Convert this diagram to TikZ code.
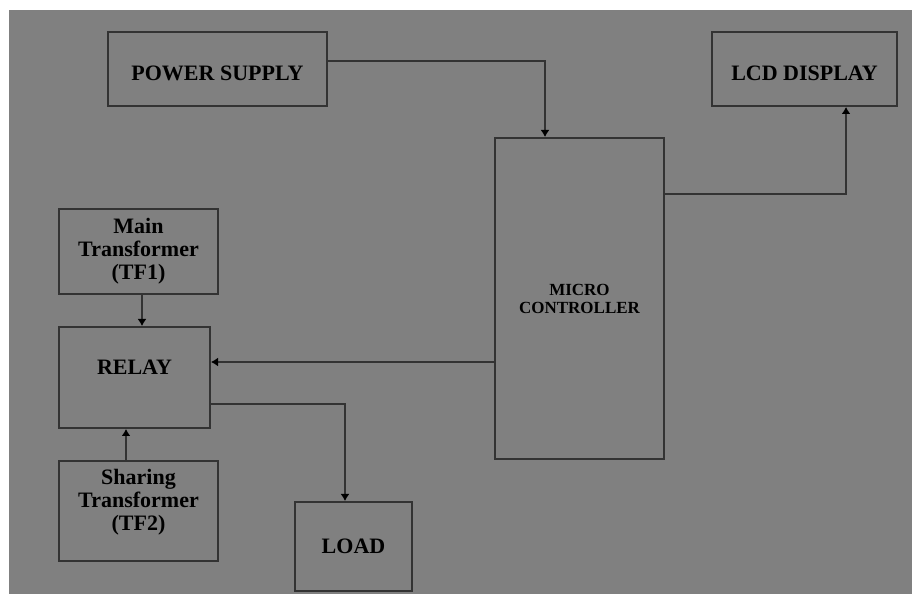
\documentclass[tikz,border=0pt]{standalone}
\usepackage{fontspec}
\setmainfont{Liberation Serif}
\usepackage{xcolor}
\definecolor{bggrey}{gray}{0.5}
\definecolor{edgegrey}{gray}{0.2}
\usetikzlibrary{arrows.meta,positioning}

\begin{document}
\begin{tikzpicture}[
    x=1pt, y=1pt,
    node distance=30pt and 40pt,
    block/.style={rectangle, draw=edgegrey, line width=2pt, inner sep=0pt, align=center, font=\fontsize{22}{23}\selectfont\bfseries},
    line/.style={draw=edgegrey, line width=2pt, -{Latex[length=7pt,width=9pt,color=black]}}
  ]
    \useasboundingbox (0,0) rectangle (912,594);
    \fill[bggrey] (9,0) rectangle (912,584);

    % Nodes - top row
    \node [block, minimum width=219pt, minimum height=74pt, text height=24pt] (power) at (217.5,525) {POWER SUPPLY};
    \node [block, minimum width=185pt, minimum height=74pt, text height=24pt, right=383pt of power] (lcd) {LCD DISPLAY};
    \node [block, minimum width=169pt, minimum height=321pt, font=\fontsize{17}{18}\selectfont\bfseries, below right=30pt and 166pt of power.south east] (micro) {MICRO\\CONTROLLER};

    % Left column - transformers and relay
    \node [block, minimum width=159pt, minimum height=85pt] (mainTF) at (138.5,342.5) {Main\\Transformer\\(TF1)};
    \node [block, minimum width=151pt, minimum height=101pt, text depth=20pt, below right=31pt and 0pt of mainTF.south west] (relay) {RELAY};
    \node [block, minimum width=159pt, minimum height=100pt, text depth=23pt, below right=31pt and 0pt of relay.south west] (sharing) {Sharing\\Transformer\\(TF2)};
    \node [block, minimum width=117pt, minimum height=89pt, below right=72pt and 83pt of relay.south east] (load) {LOAD};

    % Tap points on the box sides
    \coordinate (psout) at ([yshift=8pt]power.east);
    \coordinate (mcup) at ([yshift=104.5pt]micro.east);
    \coordinate (mcout) at ([yshift=-63.5pt]micro.west);
    \coordinate (rlout) at ([yshift=-26.5pt]relay.east);
    \coordinate (tfone) at ([xshift=3.5pt]mainTF.south);
    \coordinate (tftwo) at ([xshift=-12.5pt]sharing.north);

    % Paths
    \path [line] (psout) -| ([xshift=-34.5pt]micro.north);
    \path [line] (mcup) -| ([xshift=41.5pt]lcd.south);
    \path [line] (mcout) -- (mcout -| relay.east);
    \path [line] (rlout) -| ([xshift=-8.5pt]load.north);
    \path [line] (tfone) -- (tfone |- relay.north);
    \path [line] (tftwo) -- (tftwo |- relay.south);

\end{tikzpicture}
\end{document}
